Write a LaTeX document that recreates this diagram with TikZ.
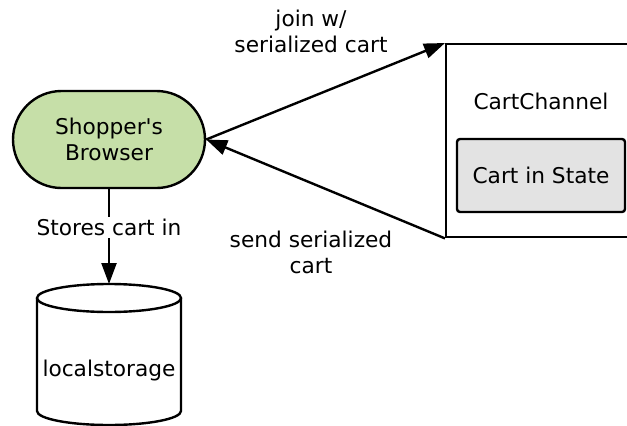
\documentclass[tikz,border=0pt]{standalone}
\usepackage{fontspec}
\setmainfont{DejaVu Sans}
\usetikzlibrary{shapes.misc,arrows.meta}
\definecolor{browsergreen}{HTML}{C6DFA8}
\definecolor{stategray}{HTML}{E3E3E3}
\tikzset{
  base/.style={line width=2.4pt, draw=black},
  txt/.style={font=\fontsize{21.7}{26}\selectfont, align=center},
  flow/.style={line width=2.4pt, -{Triangle[length=21pt,width=15pt]}},
  browserbox/.style={base, txt, rounded rectangle, fill=browsergreen,
    minimum width=192pt, minimum height=97pt, inner sep=0pt},
  chanbox/.style={base, rectangle, minimum width=200pt, minimum height=193pt,
    anchor=north west, inner sep=0pt},
  statebox/.style={base, txt, rectangle, rounded corners=3pt, fill=stategray,
    minimum width=168pt, minimum height=73pt, inner sep=0pt},
  lbl/.style={txt, inner sep=2pt}
}
\begin{document}
\begin{tikzpicture}[x=1pt,y=-1pt]
  \useasboundingbox (0,0) rectangle (627,426);
  \clip (0,0) rectangle (627,426);

  % the browser
  \node[browserbox] (browser) at (109,139.5) {Shopper\textquotesingle s\\Browser};

  % the channel, running off to the right
  \node[chanbox] (chan) at (445,43) {};
  \node[txt] (chanlabel) at (541,101) {CartChannel};
  \node[statebox] (state) at (541,175.5) {Cart in State};

  % local storage drum
  \coordinate (storetop) at (109,284);
  \draw[base, fill=white] (37,298) -- (37,411)
    arc[start angle=180, end angle=0, x radius=72, y radius=14]
    -- (181,298);
  \draw[base, fill=white] (109,298) ellipse[x radius=72, y radius=14];
  \node[txt] (store) at (109,371) {localstorage};

  % connectors
  \draw[flow] (browser.east) -- (chan.north west);
  \draw[flow] (chan.south west) -- (browser.east);
  \draw[flow] (browser.south) -- (storetop)
    node[lbl, pos=0.4, fill=white] (storelbl) {Stores cart in};

  % connector captions
  \node[lbl] (joinlbl) at (311,31) {join w/\\serialized cart};
  \node[lbl] (sendlbl) at (311,252) {send serialized\\cart};
\end{tikzpicture}
\end{document}
